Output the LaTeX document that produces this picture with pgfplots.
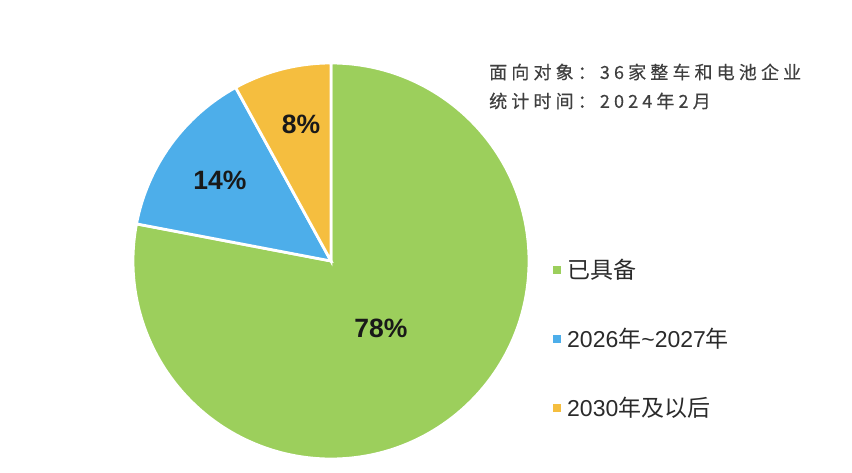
\documentclass[border=0pt]{standalone}
\usepackage{pgfplots}
\pgfplotsset{compat=1.18}
\usepackage{fontspec}
\setmainfont{Liberation Sans}
\newfontfamily\cjk{Noto Sans CJK SC}
\newfontfamily\cjkls[LetterSpace=23,FakeBold=0.4]{Noto Sans CJK SC}
\definecolor{pgreen}{HTML}{9CCF5C}
\definecolor{pblue}{HTML}{4DAEEA}
\definecolor{pyellow}{HTML}{F5BE3F}
\definecolor{txt}{HTML}{2A2A2A}
\begin{document}
\begin{tikzpicture}
\begin{axis}[
  width=852pt, height=472pt, scale only axis,
  xmin=0, xmax=852, ymin=0, ymax=472,
  hide axis, clip=false]
\path (axis cs:0,0) rectangle (axis cs:852,472);
% slices: 78, 14, 8 (percent), clockwise from 12 o'clock
\fill[pgreen, draw=white, line width=2.8pt] (axis cs:331,211) -- ++(90:198pt) arc[start angle=90, end angle={90-78*3.6}, radius=198pt] -- cycle;
\fill[pblue, draw=white, line width=2.8pt] (axis cs:331,211) -- ++({90-78*3.6}:198pt) arc[start angle={90-78*3.6}, end angle={90-92*3.6}, radius=198pt] -- cycle;
\fill[pyellow, draw=white, line width=2.8pt] (axis cs:331,211) -- ++({90-92*3.6}:198pt) arc[start angle={90-92*3.6}, end angle={90-100*3.6}, radius=198pt] -- cycle;
\node[font=\fontsize{26.5}{30}\selectfont\bfseries, text=black!90] at (axis cs:381,144) {78\%};
\node[font=\fontsize{26.5}{30}\selectfont\bfseries, text=black!90] at (axis cs:220,292) {14\%};
\node[font=\fontsize{26.5}{30}\selectfont\bfseries, text=black!90] at (axis cs:301,348) {8\%};
% note
\node[anchor=west, inner sep=0pt, text=txt!90, font=\fontsize{18}{20}\selectfont\cjkls] at (axis cs:489,400) {面向对象：36家整车和电池企业};
\node[anchor=west, inner sep=0pt, text=txt!90, font=\fontsize{18}{20}\selectfont\cjkls] at (axis cs:489,371) {统计时间：2024年2月};
% legend
\fill[pgreen] (axis cs:553,198) rectangle (axis cs:561,206);
\fill[pblue] (axis cs:553,129) rectangle (axis cs:561,137);
\fill[pyellow] (axis cs:553,60) rectangle (axis cs:561,68);
\node[anchor=west, inner sep=0pt, text=txt, font=\fontsize{23}{26}\selectfont] at (axis cs:567,202) {\cjk 已具备};
\node[anchor=west, inner sep=0pt, text=txt, font=\fontsize{23}{26}\selectfont] at (axis cs:567,133) {2026{\cjk 年}\textasciitilde2027{\cjk 年}};
\node[anchor=west, inner sep=0pt, text=txt, font=\fontsize{23}{26}\selectfont] at (axis cs:567,64) {2030{\cjk 年及以后}};
\end{axis}
\end{tikzpicture}
\end{document}
